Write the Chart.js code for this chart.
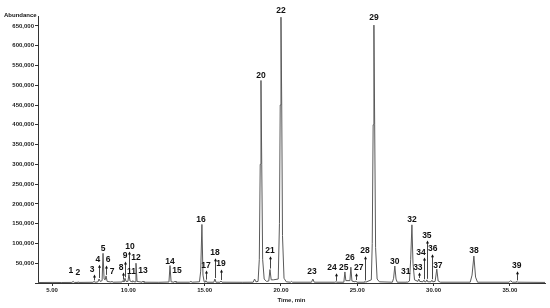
<!DOCTYPE html>
<html>
<head>
<meta charset="utf-8">
<script src="https://cdn.jsdelivr.net/npm/chart.js@4"></script>
<style>
html, body { margin: 0; padding: 0; background: #fff; }
#wrap { width: 550px; height: 308px; position: relative; }
</style>
</head>
<body>
<div id="wrap"><canvas id="tic"></canvas></div>
<script>
// total ion chromatogram (time in min, abundance in counts)
const traceTimes = [
    4.10, 5.00, 5.60, 6.30, 6.38, 6.46, 6.64, 6.70, 6.76, 7.68, 7.75, 7.82,
    8.00, 8.08, 8.16, 8.28, 8.34, 8.41, 8.48, 8.54, 8.61, 8.86, 8.93, 9.00,
    9.58, 9.65, 9.71, 9.78, 9.85, 9.97, 10.04, 10.11, 10.24, 10.30, 10.36, 10.44,
    10.50, 10.57, 10.90, 10.96, 11.02, 12.00, 12.66, 12.73, 12.80, 13.00, 13.06, 13.12,
    14.00, 14.10, 14.18, 14.66, 14.74, 14.82, 14.89, 14.97, 15.02, 15.08, 15.14, 15.60,
    15.67, 15.74, 16.00, 16.07, 16.14, 17.50, 18.18, 18.27, 18.36, 18.50, 18.58, 18.64,
    18.69, 18.74, 18.80, 18.90, 19.05, 19.20, 19.28, 19.36, 19.50, 19.82, 19.90, 19.95,
    20.00, 20.05, 20.10, 20.20, 20.35, 20.62, 20.69, 20.76, 22.00, 22.09, 22.18, 23.53,
    23.60, 23.67, 24.12, 24.19, 24.25, 24.52, 24.58, 24.65, 24.85, 24.91, 24.97, 25.45,
    25.50, 25.55, 25.92, 25.98, 26.04, 26.09, 26.14, 26.20, 26.30, 26.45, 27.30, 27.38,
    27.46, 27.54, 27.62, 28.20, 28.25, 28.30, 28.42, 28.50, 28.58, 28.65, 28.75, 28.97,
    29.03, 29.09, 29.30, 29.36, 29.42, 29.50, 29.56, 29.62, 29.83, 29.89, 29.95, 30.10,
    30.21, 30.30, 30.45, 32.40, 32.52, 32.64, 32.75, 32.88, 34.95, 35.05, 35.15, 35.40,
    35.45, 35.50, 37.30
];
const traceAbundance = [
    1200, 1500, 1300, 1500, 4000, 1500, 1500, 3000, 1500, 1800, 4000, 2000,
    2500, 10000, 4000, 6000, 75000, 10000, 8000, 18000, 4000, 2500, 4000, 2000,
    2500, 6000, 3000, 12000, 4000, 4000, 22000, 5000, 3000, 6000, 3000, 3000,
    50000, 4000, 2000, 5000, 2000, 1800, 2500, 44000, 3000, 2000, 5000, 2000,
    2000, 4000, 2000, 3000, 30000, 148000, 20000, 3000, 2000, 6000, 2000, 2000,
    10000, 2000, 2000, 5000, 2000, 1800, 2000, 10000, 3000, 4000, 60000, 300000,
    512000, 300000, 60000, 10000, 4000, 5000, 34000, 8000, 8000, 10000, 150000, 450000,
    672000, 450000, 120000, 12000, 3000, 2000, 4000, 2000, 2000, 10000, 2000, 2000,
    3000, 2000, 2000, 28000, 6000, 6000, 40000, 5000, 3000, 5000, 2000, 2000,
    4000, 2000, 8000, 100000, 400000, 652000, 400000, 90000, 10000, 3000, 2000, 12000,
    43000, 10000, 2000, 2000, 3000, 2000, 5000, 60000, 147000, 50000, 8000, 4000,
    10000, 4000, 3000, 7000, 3000, 3000, 8000, 3000, 3000, 7000, 3000, 4000,
    35000, 5000, 2000, 2000, 20000, 68000, 15000, 2000, 2000, 6000, 2000, 2000,
    4000, 2000, 1500
];

// numbered peaks
const peakNumbers = [
    1, 2, 3, 4, 5, 6, 7, 8, 9, 10, 11, 12, 13,
    14, 15, 16, 17, 18, 19, 20, 21, 22, 23, 24, 25, 26,
    27, 28, 29, 30, 31, 32, 33, 34, 35, 36, 37, 38, 39
];
const peakTimes = [
    6.38, 6.70, 7.75, 8.08, 8.34, 8.54, 8.93, 9.65, 9.78, 10.04, 10.30, 10.50, 10.96,
    12.73, 13.06, 14.82, 15.08, 15.67, 16.07, 18.69, 19.28, 20.00, 22.09, 23.60, 24.19, 24.58,
    24.91, 25.50, 26.09, 27.46, 28.25, 28.58, 29.03, 29.36, 29.56, 29.89, 30.21, 32.64, 35.45
];
const peakApex = [
    4000, 3000, 4000, 10000, 75000, 18000, 4000, 6000, 12000, 22000, 6000, 50000, 5000,
    44000, 5000, 148000, 6000, 10000, 5000, 512000, 34000, 672000, 10000, 3000, 28000, 40000,
    5000, 4000, 652000, 43000, 3000, 147000, 10000, 7000, 8000, 7000, 35000, 68000, 4000
];
const labelTimes = [
    6.24, 6.70, 7.62, 8.01, 8.34, 8.67, 8.93, 9.52, 9.78, 10.11, 10.20, 10.50, 10.96,
    12.73, 13.19, 14.76, 15.08, 15.67, 16.07, 18.69, 19.28, 20.00, 22.03, 23.34, 24.12, 24.52,
    25.10, 25.50, 26.09, 27.46, 28.18, 28.58, 28.97, 29.17, 29.56, 29.95, 30.28, 32.64, 35.45
];
const labelLevels = [
    26500, 19000, 29000, 54000, 82000, 52000, 24000, 34000, 62000, 87000, 23000, 57000, 26500,
    47000, 26500, 153000, 39000, 70000, 42000, 517000, 75000, 682000, 21500, 32000, 34000, 59000,
    32000, 75000, 664000, 47000, 24000, 153000, 34000, 72000, 115000, 80000, 39000, 77000, 37000
];

const timeTicks = [5, 10, 15, 20, 25, 30, 35];
const abundanceTicks = [0, 50000, 100000, 150000, 200000, 250000, 300000, 350000,
    400000, 450000, 500000, 550000, 600000, 650000];

const axisFont = { family: '"Liberation Sans", Arial, sans-serif', size: 6, weight: 'bold' };

const peakLabels = {
    id: 'peakLabels',
    afterDatasetsDraw(chart) {
        const { ctx, scales: { x, y } } = chart;
        ctx.save();
        ctx.font = 'bold 8.5px "Liberation Sans", Arial, sans-serif';
        ctx.fillStyle = '#111';
        ctx.strokeStyle = '#444';
        ctx.lineWidth = 1;
        ctx.textAlign = 'center';
        ctx.textBaseline = 'alphabetic';
        peakNumbers.forEach((n, i) => {
            const px = Math.round(x.getPixelForValue(peakTimes[i])) + 0.5;
            const ly = y.getPixelForValue(labelLevels[i]);
            const top = ly + 3;
            const bottom = y.getPixelForValue(peakApex[i]) - 1;
            if (bottom - top > 5) {
                ctx.beginPath();
                ctx.moveTo(px, bottom);
                ctx.lineTo(px, top + 2);
                ctx.stroke();
                ctx.beginPath();
                ctx.moveTo(px - 1.5, top + 3);
                ctx.lineTo(px, top);
                ctx.lineTo(px + 1.5, top + 3);
                ctx.closePath();
                ctx.fill();
            }
            ctx.fillText(String(n), x.getPixelForValue(labelTimes[i]), ly);
        });
        // y axis caption at the top left
        ctx.font = 'bold 6px "Liberation Sans", Arial, sans-serif';
        ctx.textAlign = 'left';
        ctx.fillText('Abundance', 4, 17);
        ctx.restore();
    }
};

new Chart(document.getElementById('tic'), {
    type: 'line',
    data: {
        datasets: [{
            data: traceTimes.map((t, i) => ({ x: t, y: traceAbundance[i] })),
            borderColor: '#5a5a5a',
            borderWidth: 1,
            pointRadius: 0,
            tension: 0
        }]
    },
    options: {
        responsive: true,
        maintainAspectRatio: false,
        animation: false,
        devicePixelRatio: 1,
        layout: { padding: { top: 16, right: 5, left: 0, bottom: 0 } },
        plugins: {
            legend: { display: false },
            tooltip: { enabled: false }
        },
        scales: {
            x: {
                type: 'linear',
                min: 4.08,
                max: 37.3,
                bounds: 'data',
                afterFit: scale => { scale.height = 25; },
                afterBuildTicks: scale => { scale.ticks = timeTicks.map(v => ({ value: v })); },
                grid: { drawOnChartArea: false, tickLength: 3, color: '#333' },
                border: { display: true, color: '#333', width: 1 },
                ticks: {
                    maxRotation: 0,
                    autoSkip: false,
                    padding: 1,
                    color: '#222',
                    font: axisFont,
                    callback: v => v.toFixed(2)
                },
                title: {
                    display: true,
                    text: 'Time, min',
                    color: '#222',
                    font: axisFont,
                    padding: { top: 0, bottom: 4 }
                }
            },
            y: {
                min: 0,
                max: 675000,
                bounds: 'data',
                afterFit: scale => { scale.width = 38; },
                afterBuildTicks: scale => { scale.ticks = abundanceTicks.map(v => ({ value: v })); },
                grid: { drawOnChartArea: false, tickLength: 3, color: '#333' },
                border: { display: true, color: '#333', width: 1 },
                ticks: {
                    autoSkip: false,
                    padding: 1,
                    color: '#222',
                    font: axisFont,
                    callback: v => v === 0 ? '' : v.toLocaleString('en-US')
                }
            }
        }
    },
    plugins: [peakLabels]
});
</script>
</body>
</html>
